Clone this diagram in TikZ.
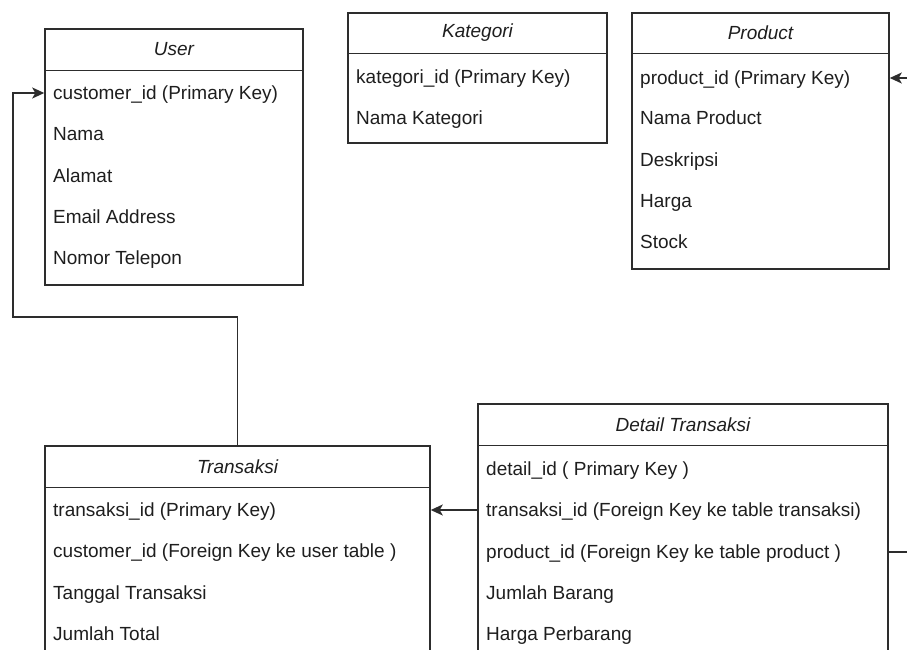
\documentclass[tikz,border=0pt]{standalone}
\usepackage{fontspec}
\setmainfont{Liberation Sans}
\usetikzlibrary{arrows.meta}
\definecolor{erline}{RGB}{45,45,45}
\definecolor{ertext}{RGB}{30,30,30}
\tikzset{
  tbl/.style={rectangle, draw=erline, line width=1.5pt, inner sep=0pt},
  tblhead/.style={rectangle, inner sep=0pt, anchor=north, font=\fontsize{19}{23}\selectfont\itshape, text=ertext},
  headline/.style={draw=erline, line width=1.5pt},
  field/.style={anchor=west, inner sep=0pt, text height=13.6pt, text depth=0pt, font=\fontsize{19}{23}\selectfont, text=ertext},
  link/.style={-{Stealth[length=12pt,width=11pt,inset=3pt]}, line width=1.5pt, draw=erline}
}

\begin{document}
\begin{tikzpicture}[x=1pt, y=-1pt]
\useasboundingbox (0,0) rectangle (907,650);
\clip (0,0) rectangle (907,650);
% User
\node[tbl, minimum width=258pt, minimum height=256pt] (user) at (174,157) {};
\node[tblhead, minimum width=258pt, minimum height=42pt] (user-title) at (user.north) {User};
\draw[headline] (user-title.south west) -- (user-title.south east);
\node[field] (user-r1) at (53,93) {customer\_id (Primary Key)};
\node[field] (user-r2) at (53,134) {Nama};
\node[field] (user-r3) at (53,176) {Alamat};
\node[field] (user-r4) at (53,217) {Email Address};
\node[field] (user-r5) at (53,258) {Nomor Telepon};
% Kategori
\node[tbl, minimum width=259pt, minimum height=130pt] (kat) at (477.5,78) {};
\node[tblhead, minimum width=259pt, minimum height=41pt] (kat-title) at (kat.north) {Kategori};
\draw[headline] (kat-title.south west) -- (kat-title.south east);
\node[field] (kat-r1) at (356,77) {kategori\_id (Primary Key)};
\node[field] (kat-r2) at (356,118) {Nama Kategori};
% Product
\node[tbl, minimum width=257pt, minimum height=256pt] (product) at (760.5,141) {};
\node[tblhead, minimum width=257pt, minimum height=41pt] (product-title) at (product.north) {Product};
\draw[headline] (product-title.south west) -- (product-title.south east);
\node[field] (product-r1) at (640,78) {product\_id (Primary Key)};
\node[field] (product-r2) at (640,118) {Nama Product};
\node[field] (product-r3) at (640,160) {Deskripsi};
\node[field] (product-r4) at (640,201) {Harga};
\node[field] (product-r5) at (640,242) {Stock};
% Transaksi
\node[tbl, minimum width=385pt, minimum height=254pt] (trans) at (237.5,573) {};
\node[tblhead, minimum width=385pt, minimum height=42pt] (trans-title) at (trans.north) {Transaksi};
\draw[headline] (trans-title.south west) -- (trans-title.south east);
\node[field] (trans-r1) at (53,510) {transaksi\_id (Primary Key)};
\node[field] (trans-r2) at (53,551) {customer\_id (Foreign Key ke user table )};
\node[field] (trans-r3) at (53,593) {Tanggal Transaksi};
\node[field] (trans-r4) at (53,634) {Jumlah Total};
% Detail Transaksi
\node[tbl, minimum width=410pt, minimum height=257pt] (detail) at (683,532.5) {};
\node[tblhead, minimum width=410pt, minimum height=42pt] (detail-title) at (detail.north) {Detail Transaksi};
\draw[headline] (detail-title.south west) -- (detail-title.south east);
\node[field] (detail-r1) at (486,469) {detail\_id ( Primary Key )};
\node[field] (detail-r2) at (486,510) {transaksi\_id (Foreign Key ke table transaksi)};
\node[field] (detail-r3) at (486,552) {product\_id (Foreign Key ke table product )};
\node[field] (detail-r4) at (486,593) {Jumlah Barang};
\node[field] (detail-r5) at (486,634) {Harga Perbarang};
% relations
\coordinate (bendA) at (13,317);
\coordinate (bendB) at (930,300);
\draw[link] (trans.north) |- (bendA) |- (user.west |- user-r1);
\draw[link] (detail.west |- detail-r2) -- (trans.east |- detail-r2);
\draw[link] (detail.east |- detail-r3) -| (bendB) |- (product.east |- product-r1);
\end{tikzpicture}
\end{document}
